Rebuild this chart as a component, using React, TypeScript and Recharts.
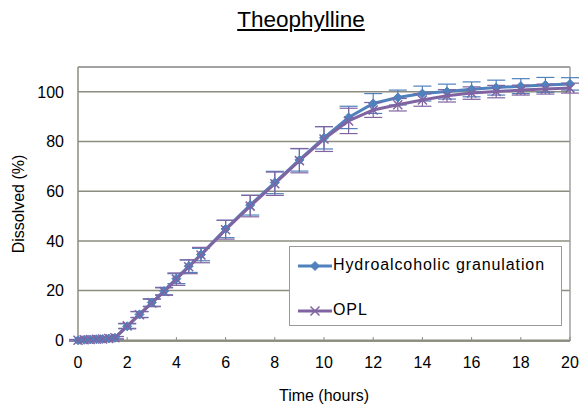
import React from 'react';
import { LineChart, Line, XAxis, YAxis, CartesianGrid, ErrorBar, Legend, ReferenceLine, Label } from 'recharts';

const times = [0, 0.25, 0.5, 0.75, 1, 1.25, 1.5, 2, 2.5, 3, 3.5, 4, 4.5, 5, 6, 7, 8, 9, 10, 11, 12, 13, 14, 15, 16, 17, 18, 19, 20];
const hydro = [0, 0.2, 0.3, 0.4, 0.5, 0.7, 1.0, 5.6, 10.4, 15.2, 19.8, 24.8, 29.8, 34.5, 44.8, 54.4, 63.5, 72.6, 81.5, 89.7, 95.3, 97.7, 99.3, 100.1, 101.0, 101.7, 102.3, 102.8, 103.2];
const hydroErr = [0.3, 0.3, 0.3, 0.3, 0.3, 0.3, 0.5, 1, 1.2, 1.5, 1.5, 2, 2.5, 2.5, 3.5, 4, 4.5, 4.5, 4.5, 4.5, 4, 3, 3, 3, 3, 3, 3, 3, 2.5];
const opl = [0, 0.2, 0.3, 0.4, 0.5, 0.7, 1.0, 5.8, 10.3, 15.0, 19.6, 24.6, 29.6, 34.3, 44.5, 54.0, 63.0, 72.3, 81.0, 88.3, 92.7, 94.8, 96.7, 98.4, 99.5, 100.1, 100.7, 101.1, 101.5];
const oplErr = [0.3, 0.3, 0.3, 0.3, 0.3, 0.3, 0.5, 1, 1.2, 1.5, 1.5, 2.5, 2.8, 3.1, 3.8, 4.3, 4.7, 4.9, 5, 5.1, 3, 2.5, 2.5, 2.5, 2.5, 2.5, 2, 2, 2];
const xTicks = [0, 2, 4, 6, 8, 10, 12, 14, 16, 18, 20];
const yTicks = [0, 20, 40, 60, 80, 100];
const seriesNames = ['Hydroalcoholic granulation', 'OPL'];

const data = times.map((t, i) => ({ t, hydro: hydro[i], hydroErr: hydroErr[i], opl: opl[i], oplErr: oplErr[i] }));

const BLUE = '#4F81BD';
const PURPLE = '#8064A2';
const FONT = '"Liberation Sans", Arial, sans-serif';

const Diamond = (props: any) => {
  const { cx, cy } = props;
  if (cx == null || cy == null) return null;
  const r = 4.5;
  return <path d={`M${cx},${cy - r}L${cx + r},${cy}L${cx},${cy + r}L${cx - r},${cy}Z`} fill={BLUE} stroke={BLUE} strokeWidth={1} />;
};

const Cross = (props: any) => {
  const { cx, cy } = props;
  if (cx == null || cy == null) return null;
  const r = 4.5;
  return <path d={`M${cx - r},${cy - r}L${cx + r},${cy + r}M${cx - r},${cy + r}L${cx + r},${cy - r}`} stroke={PURPLE} strokeWidth={1.5} fill="none" />;
};

const LegendBox = () => (
  <div style={{ width: 271, height: 78, border: '1px solid #9a9a9a', background: '#fff', fontFamily: FONT, fontSize: 16, color: '#000', position: 'relative' }}>
    <svg width={40} height={78} style={{ position: 'absolute', left: 6, top: 0 }}>
      <line x1={2} y1={19} x2={36} y2={19} stroke={BLUE} strokeWidth={3} />
      <Diamond cx={19} cy={19} />
      <line x1={2} y1={64} x2={36} y2={64} stroke={PURPLE} strokeWidth={3} />
      <Cross cx={19} cy={64} />
    </svg>
    <div style={{ position: 'absolute', left: 43, top: 9, whiteSpace: 'nowrap', letterSpacing: 0.9 }}>{seriesNames[0]}</div>
    <div style={{ position: 'absolute', left: 43, top: 54, whiteSpace: 'nowrap', letterSpacing: 0.9 }}>{seriesNames[1]}</div>
  </div>
);

export default function App() {
  return (
    <div style={{ position: 'absolute', left: 0, top: 0, width: 580, height: 406, background: '#fff' }}>
      <div style={{ position: 'absolute', left: 0, top: 7, width: 602, textAlign: 'center', fontFamily: FONT, fontSize: 22.5, textDecoration: 'underline', color: '#000' }}>
        Theophylline
      </div>
      <LineChart width={580} height={406} data={data} margin={{ top: 67, right: 10, left: 0, bottom: 5 }}>
        <CartesianGrid horizontal vertical={false} stroke="#8c8c80" strokeWidth={1.5} />
        <XAxis
          dataKey="t"
          type="number"
          domain={[0, 20]}
          ticks={xTicks}
          height={60}
          axisLine={{ stroke: '#8c8c80', strokeWidth: 1.5 }}
          tickLine={{ stroke: '#8c8c80' }}
          tickSize={-4}
          tickMargin={20}
          tick={{ fill: '#000', fontSize: 16, fontFamily: FONT }}
        >
          <Label value="Time (hours)" position="insideBottom" offset={0} style={{ fill: '#000', fontSize: 16, fontFamily: FONT }} />
        </XAxis>
        <YAxis
          type="number"
          domain={[0, 110]}
          ticks={yTicks}
          width={78}
          axisLine={{ stroke: '#8c8c80', strokeWidth: 1.5 }}
          tickLine={false}
          tickSize={0}
          tickMargin={14}
          tick={{ fill: '#000', fontSize: 16, fontFamily: FONT }}
        >
          <Label value="Dissolved (%)" angle={-90} position="insideLeft" offset={18} style={{ fill: '#000', fontSize: 16, fontFamily: FONT, textAnchor: 'middle' }} />
        </YAxis>
        <ReferenceLine y={110} stroke="#a0a0a0" strokeWidth={1.5} />
        <ReferenceLine x={20} stroke="#a0a0a0" strokeWidth={1.5} />
        <Line dataKey="hydro" name={seriesNames[0]} stroke={BLUE} strokeWidth={3} dot={<Diamond />} activeDot={false} isAnimationActive={false}>
          <ErrorBar dataKey="hydroErr" width={9} stroke={BLUE} strokeWidth={1.2} direction="y" />
        </Line>
        <Line dataKey="opl" name={seriesNames[1]} stroke={PURPLE} strokeWidth={3} dot={<Cross />} activeDot={false} isAnimationActive={false}>
          <ErrorBar dataKey="oplErr" width={9} stroke={PURPLE} strokeWidth={1.2} direction="y" />
        </Line>
        <Legend layout="vertical" align="center" verticalAlign="middle" content={() => <LegendBox />} wrapperStyle={{ position: 'absolute', left: 289, top: 246, width: 273, height: 80 }} />
      </LineChart>
    </div>
  );
}
